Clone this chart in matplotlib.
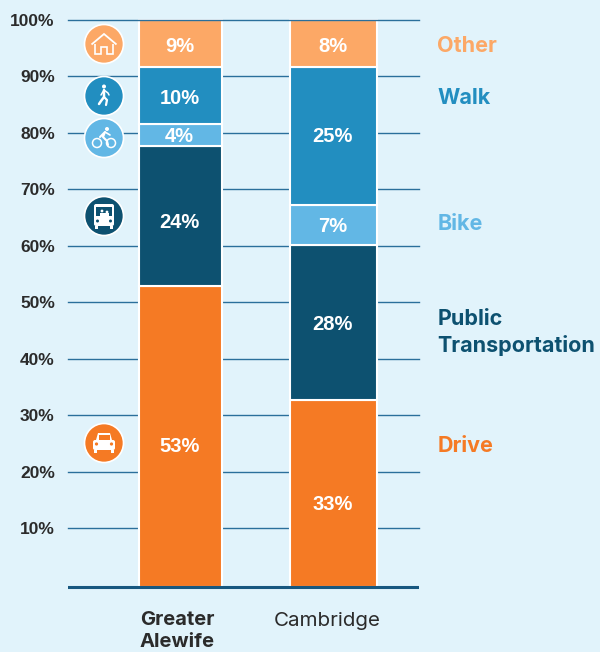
import matplotlib
matplotlib.use('Agg')
import matplotlib.pyplot as plt
from matplotlib.patches import Circle, Polygon, Rectangle, FancyBboxPatch

# valores
areas = ['Greater\nAlewife', 'Cambridge']
modes = ['Drive', 'Public\nTransportation', 'Bike', 'Walk', 'Other']
alewife_heights = [52.9, 24.7, 4.0, 10.0, 8.4]
cambridge_heights = [32.7, 27.5, 7.1, 24.3, 8.4]
alewife_labels = ['53%', '24%', '4%', '10%', '9%']
cambridge_labels = ['33%', '28%', '7%', '25%', '8%']
y_ticks = [10, 20, 30, 40, 50, 60, 70, 80, 90, 100]

# estilo e posicoes (pixels)
colors = ['#f57a24', '#0d5170', '#62b7e5', '#228ec0', '#fca866']
bg = '#e1f3fb'
text_dark = '#2b2b2b'
alewife_label_px = [446, 222, 137, 98, 47]
cambridge_label_px = [504, 325, 226, 137, 47]
legend_px = [446.5, 332.5, 223.5, 98.5, 45.5]
icon_px = [443, 216, 138, 96, 44]

W, H = 600, 652
LEFT, RIGHT, TOP, BOTTOM = 68, 419, 20, 590
PX_PER_UNIT = 5.645
BASE_PX = 584.5

fig = plt.figure(figsize=(W / 100, H / 100), dpi=100, facecolor=bg)
ax = fig.add_axes([LEFT / W, 1 - BOTTOM / H, (RIGHT - LEFT) / W, (BOTTOM - TOP) / H])
ax.set_facecolor('none')
ax.set_xlim(-0.735, 1.559)
ax.set_ylim((BASE_PX - BOTTOM) / PX_PER_UNIT, 100)
for s in ax.spines.values():
    s.set_visible(False)


def py(px):
    return (BASE_PX - px) / PX_PER_UNIT


for t in y_ticks:
    ax.axhline(t, color='#2a6f9b', lw=1.0, zorder=6 if t == 100 else 1, clip_on=False)
ax.axhline(py(587), color='#17577f', lw=2.2, zorder=6)

for i, (heights, labels, label_px, width) in enumerate([
        (alewife_heights, alewife_labels, alewife_label_px, 0.5425),
        (cambridge_heights, cambridge_labels, cambridge_label_px, 0.569)]):
    bottom = py(587)
    for j, h in enumerate(heights):
        seg = h if j else h - py(587)
        ax.bar(i, seg, width=width, bottom=bottom, color=colors[j], edgecolor='white',
               linewidth=1.5, zorder=3, clip_on=False)
        bottom += seg
        ax.text(i - 0.005, py(label_px[j]), labels[j], color='white', ha='center', va='center',
                fontsize=14.5, fontweight='bold', zorder=7, family='Liberation Sans')

ax.set_xticks([])
ax.set_yticks(y_ticks)
ax.set_yticklabels([f'{t}%' for t in y_ticks], fontsize=12.5, fontweight='bold',
                   color=text_dark, family='Liberation Sans')
ax.tick_params(axis='y', length=0, pad=9.5)

# camada em pixels: textos soltos e icones
ov = fig.add_axes([0, 0, 1, 1], facecolor='none')
ov.set_xlim(0, W)
ov.set_ylim(H, 0)
ov.axis('off')

for name, y, c in zip(modes, legend_px, colors):
    ov.text(437.5, y, name, color=c, fontsize=15.5, fontweight='bold', family='Inter',
            ha='left', va='center', linespacing=1.3)

ov.text(140, 631, areas[0], color=text_dark, fontsize=14.5, fontweight='bold',
        family='Inter', ha='left', va='center', linespacing=1.25)
ov.text(274, 621, areas[1], color=text_dark, fontsize=14.8, family='Inter',
        ha='left', va='center')

for y, c in zip(icon_px, colors):
    ov.add_patch(Circle((104, y), 19.5, fc=c, ec='white', lw=1.2))

# carro
y = icon_px[0]
ov.add_patch(FancyBboxPatch((93, y - 3), 22, 10, boxstyle='round,pad=0,rounding_size=2', fc='white', ec='none'))
ov.add_patch(Polygon([(96, y - 3), (98, y - 10), (110, y - 10), (112, y - 3)], fc='white', ec='none'))
ov.add_patch(Rectangle((98.5, y - 8.5), 11, 5, fc=colors[0], ec='none'))
ov.add_patch(Rectangle((94, y + 7), 3, 2.5, fc='white', ec='none'))
ov.add_patch(Rectangle((111, y + 7), 3, 2.5, fc='white', ec='none'))
ov.add_patch(Circle((96.5, y + 1), 1.6, fc=colors[0], ec='none'))
ov.add_patch(Circle((111.5, y + 1), 1.6, fc=colors[0], ec='none'))

# onibus
y = icon_px[1]
ov.add_patch(FancyBboxPatch((94, y - 12), 20, 22, boxstyle='round,pad=0,rounding_size=2', fc='white', ec='none'))
ov.add_patch(Rectangle((96, y - 9), 16, 9, fc=colors[1], ec='none'))
ov.add_patch(Circle((102, y - 5), 1.4, fc='white', ec='none'))
ov.add_patch(Circle((107, y - 4), 1.4, fc='white', ec='none'))
ov.add_patch(Rectangle((100, y - 3), 9, 3, fc='white', ec='none'))
ov.add_patch(Circle((97.5, y + 5), 1.5, fc=colors[1], ec='none'))
ov.add_patch(Circle((110.5, y + 5), 1.5, fc=colors[1], ec='none'))
ov.add_patch(Rectangle((95, y + 10), 3, 2.5, fc='white', ec='none'))
ov.add_patch(Rectangle((110, y + 10), 3, 2.5, fc='white', ec='none'))

# bicicleta
y = icon_px[2]
ov.add_patch(Circle((97, y + 5), 4.5, fc='none', ec='white', lw=1.1))
ov.add_patch(Circle((111, y + 5), 4.5, fc='none', ec='white', lw=1.1))
ov.add_patch(Circle((107, y - 9), 2, fc='white', ec='none'))
ov.plot([100, 105, 103, 107, 108], [y - 1, y - 6, y - 1, y + 3, y + 7], color='white', lw=1.5, solid_capstyle='round')
ov.plot([105, 110], [y - 6, y - 3], color='white', lw=1.2, solid_capstyle='round')

# pedestre
y = icon_px[3]
ov.add_patch(Circle((104, y - 9.5), 2, fc='white', ec='none'))
ov.plot([104, 104, 101, 99], [y - 6, y + 1, y + 5, y + 8], color='white', lw=1.8, solid_capstyle='round')
ov.plot([104, 107, 106], [y + 1, y + 4, y + 9], color='white', lw=1.6, solid_capstyle='round')
ov.plot([104, 108, 109], [y - 6, y - 3, y - 1], color='white', lw=1.1, solid_capstyle='round')
ov.plot([104, 101], [y - 6, y - 1], color='white', lw=1.1, solid_capstyle='round')

# casa
y = icon_px[4]
ov.add_patch(Polygon([(91.5, y + 0.5), (104, y - 10), (116.5, y + 0.5)], closed=False, fc='none', ec='white', lw=1.3))
ov.add_patch(Polygon([(95, y), (95, y + 10), (101, y + 10), (101, y + 3), (107, y + 3), (107, y + 10),
                      (113, y + 10), (113, y)], closed=False, fc='none', ec='white', lw=1.2))

fig.savefig('out.png', dpi=100, facecolor=bg)
